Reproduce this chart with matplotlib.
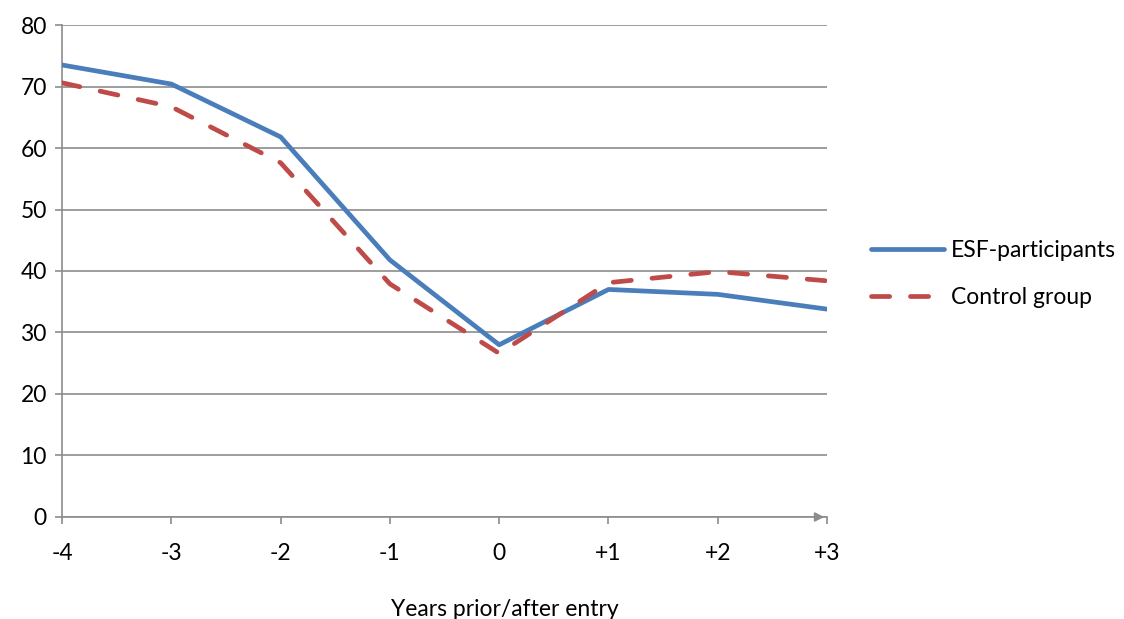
import matplotlib
matplotlib.use('Agg')
import matplotlib.pyplot as plt

# data
years = ['-4', '-3', '-2', '-1', '0', '+1', '+2', '+3']
esf = [73.5, 70.4, 61.8, 41.8, 28.0, 37.0, 36.2, 33.8]
control = [70.6, 66.7, 57.6, 37.9, 26.6, 38.1, 39.9, 38.4]

plt.rcParams['font.family'] = ['Lato', 'DejaVu Sans']
fs = 16.5

fig = plt.figure(figsize=(11.24, 6.19), dpi=100)
ax = fig.add_axes([0.0552, 0.1648, 0.6806, 0.7948])

x = list(range(len(years)))
ax.plot(x, esf, color='#4A7EBB', lw=3.4, solid_capstyle='round', solid_joinstyle='round',
        label='ESF-participants', zorder=3)
ax.plot(x, control, color='#BE4B48', lw=3.4, dashes=(3.85, 4.4), dash_capstyle='round',
        label='Control group', zorder=3)

ax.set_xlim(0, len(years) - 1)
ax.set_ylim(0, 80)
ax.set_yticks(range(0, 81, 10))
ax.set_xticks(x)
ax.set_xticklabels(years)
ax.yaxis.grid(True, color='#8c8c8c', lw=1.2)
ax.set_axisbelow(True)

for s in ['top', 'right']:
    ax.spines[s].set_visible(False)
for s in ['left', 'bottom']:
    ax.spines[s].set_color('#8c8c8c')
    ax.spines[s].set_linewidth(1.2)
ax.tick_params(axis='both', colors='#8c8c8c', length=5, width=1.2, labelsize=fs,
               labelcolor='black')
ax.tick_params(axis='x', pad=14)
ax.tick_params(axis='y', pad=6)

# arrow head at end of x axis
ax.annotate('', xy=(1.0, 0), xycoords='axes fraction', xytext=(0.985, 0),
            arrowprops=dict(arrowstyle='-|>', color='#8c8c8c', lw=1.2, mutation_scale=14),
            annotation_clip=False)

ax.set_xlabel('Years prior/after entry', fontsize=fs)
ax.xaxis.set_label_coords(0.579, -0.166)

leg = ax.legend(loc='center left', bbox_to_anchor=(1.03, 0.494), frameon=False, fontsize=fs,
                handlelength=3.2, handletextpad=0.3, labelspacing=1.15)

fig.savefig('out.png', dpi=100)
